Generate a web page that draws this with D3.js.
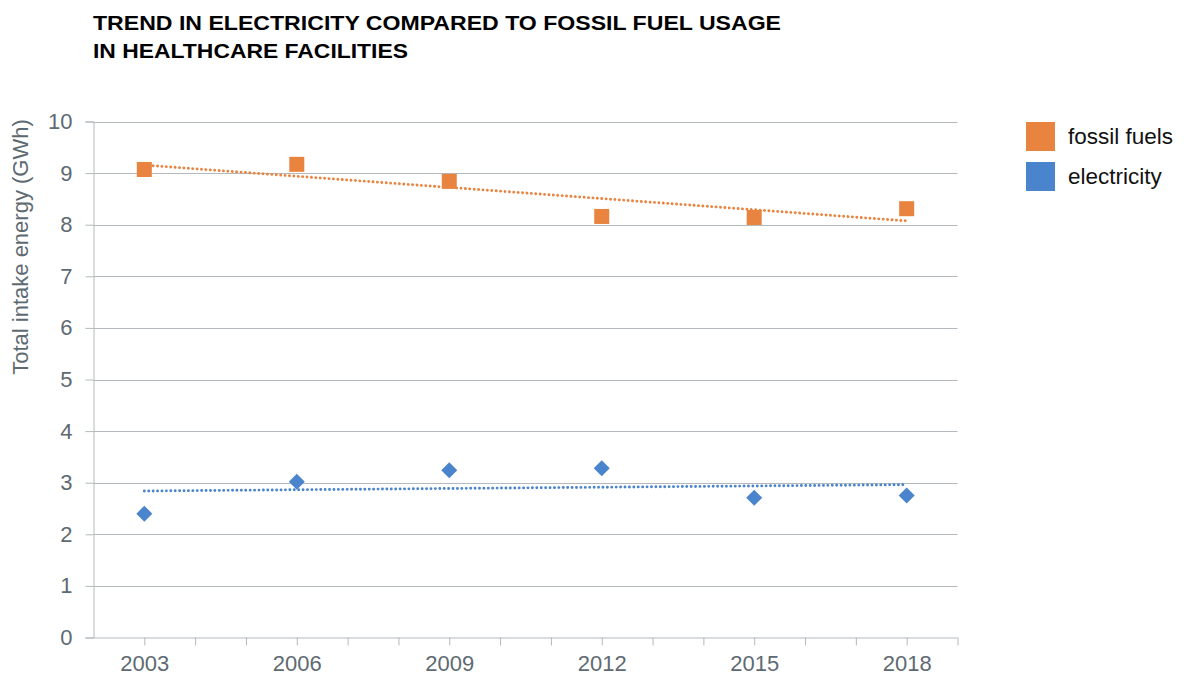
<!DOCTYPE html>
<html>
<head>
<meta charset="utf-8">
<script src="https://cdn.jsdelivr.net/npm/d3@7"></script>
<style>
  html, body { margin: 0; padding: 0; background: #fff; }
  svg { display: block; font-family: "Liberation Sans", Arial, Helvetica, sans-serif; }
</style>
</head>
<body>
<svg id="chart" width="1187" height="674"></svg>
<script>
const years = [2003, 2006, 2009, 2012, 2015, 2018];
const fossilFuels = [9.07, 9.17, 8.84, 8.16, 8.14, 8.31];
const electricity = [2.40, 3.02, 3.24, 3.28, 2.71, 2.75];
const yTicks = [0, 1, 2, 3, 4, 5, 6, 7, 8, 9, 10];
const xTickLabels = [2003, 2006, 2009, 2012, 2015, 2018];
const seriesNames = ["fossil fuels", "electricity"];
const titleLines = ["TREND IN ELECTRICITY COMPARED TO FOSSIL FUEL USAGE", "IN HEALTHCARE FACILITIES"];
const yLabel = "Total intake energy (GWh)";

const colors = { "fossil fuels": "#E8843F", "electricity": "#4A84CC" };
const gridColor = "#b4b9bd";
const textGray = "#5e6a71";

const svg = d3.select("#chart");
const margin = { left: 93.5, right: 957.5, top: 121.5, bottom: 637.5 };

const x = d3.scaleLinear().domain([2002, 2019]).range([margin.left, margin.right]);
const y = d3.scaleLinear().domain([0, 10]).range([margin.bottom, margin.top]);

// Title
const title = svg.append("g");
title.append("text").attr("x", 93).attr("y", 30).text(titleLines[0])
  .attr("font-size", 21).attr("font-weight", "bold").attr("fill", "#000")
  .attr("textLength", 688).attr("lengthAdjust", "spacingAndGlyphs");
title.append("text").attr("x", 93).attr("y", 58).text(titleLines[1])
  .attr("font-size", 21).attr("font-weight", "bold").attr("fill", "#000")
  .attr("textLength", 315).attr("lengthAdjust", "spacingAndGlyphs");

// Gridlines
svg.append("g").selectAll("line").data(yTicks.filter(d => d > 0)).join("line")
  .attr("x1", margin.left).attr("x2", margin.right)
  .attr("y1", d => Math.round(y(d)) + 0.5).attr("y2", d => Math.round(y(d)) + 0.5)
  .attr("stroke", gridColor).attr("stroke-width", 1);

// Y axis
const yAxis = svg.append("g").attr("transform", `translate(${margin.left},0)`)
  .call(d3.axisLeft(y).tickValues(yTicks).tickSize(8).tickPadding(13).tickFormat(d3.format("d")));
yAxis.select(".domain").attr("stroke", gridColor);
yAxis.selectAll(".tick line").attr("stroke", gridColor);
yAxis.selectAll(".tick text").attr("font-size", 22).attr("fill", textGray)
  .attr("font-family", "Liberation Sans, Arial, sans-serif");

// X axis
const allYears = d3.range(2003, 2020);
const xAxis = svg.append("g").attr("transform", `translate(0,${margin.bottom})`)
  .call(d3.axisBottom(x).tickValues(allYears).tickSize(8).tickPadding(10)
    .tickFormat(d => xTickLabels.includes(d) ? String(d) : ""));
xAxis.select(".domain").attr("stroke", gridColor).attr("d", `M${margin.left},0.5H${margin.right}`);
xAxis.selectAll(".tick line").attr("stroke", gridColor);
xAxis.selectAll(".tick text").attr("font-size", 22).attr("fill", textGray)
  .attr("y", 33).attr("dy", 0)
  .attr("font-family", "Liberation Sans, Arial, sans-serif");

// Y label
svg.append("text")
  .attr("transform", `translate(28,247) rotate(-90)`)
  .attr("text-anchor", "middle").attr("font-size", 22).attr("fill", textGray)
  .text(yLabel);

// Trend lines (least squares from the data)
function trend(xs, ys) {
  const mx = d3.mean(xs), my = d3.mean(ys);
  const sxy = d3.sum(xs, (v, i) => (v - mx) * (ys[i] - my));
  const sxx = d3.sum(xs, v => (v - mx) * (v - mx));
  const b = sxy / sxx, a = my - b * mx;
  return [xs[0], xs[xs.length - 1]].map(v => [v, a + b * v]);
}
const line = d3.line().x(d => x(d[0])).y(d => y(d[1]));
[[fossilFuels, "fossil fuels"], [electricity, "electricity"]].forEach(([vals, name]) => {
  svg.append("path").datum(trend(years, vals)).attr("d", line)
    .attr("fill", "none").attr("stroke", colors[name]).attr("stroke-width", 2.9)
    .attr("stroke-linecap", "round").attr("stroke-dasharray", "0.01 4.4");
});

// Markers
svg.append("g").selectAll("rect").data(years.map((yr, i) => [yr, fossilFuels[i]])).join("rect")
  .attr("x", d => x(d[0]) - 7.5).attr("y", d => y(d[1]) - 7.5)
  .attr("width", 15).attr("height", 15).attr("fill", colors["fossil fuels"]);

svg.append("g").selectAll("path").data(years.map((yr, i) => [yr, electricity[i]])).join("path")
  .attr("transform", d => `translate(${x(d[0])},${y(d[1])}) rotate(45)`)
  .attr("d", d3.symbol().type(d3.symbolSquare).size(128))
  .attr("fill", colors["electricity"]);

// Legend
const legend = svg.append("g");
seriesNames.forEach((name, i) => {
  const gy = 122 + i * 40;
  legend.append("rect").attr("x", 1026).attr("y", gy).attr("width", 29).attr("height", 29)
    .attr("fill", colors[name]);
  legend.append("text").attr("x", 1068).attr("y", gy + 22).attr("font-size", 22.5)
    .attr("fill", "#111").text(name);
});
</script>
</body>
</html>
